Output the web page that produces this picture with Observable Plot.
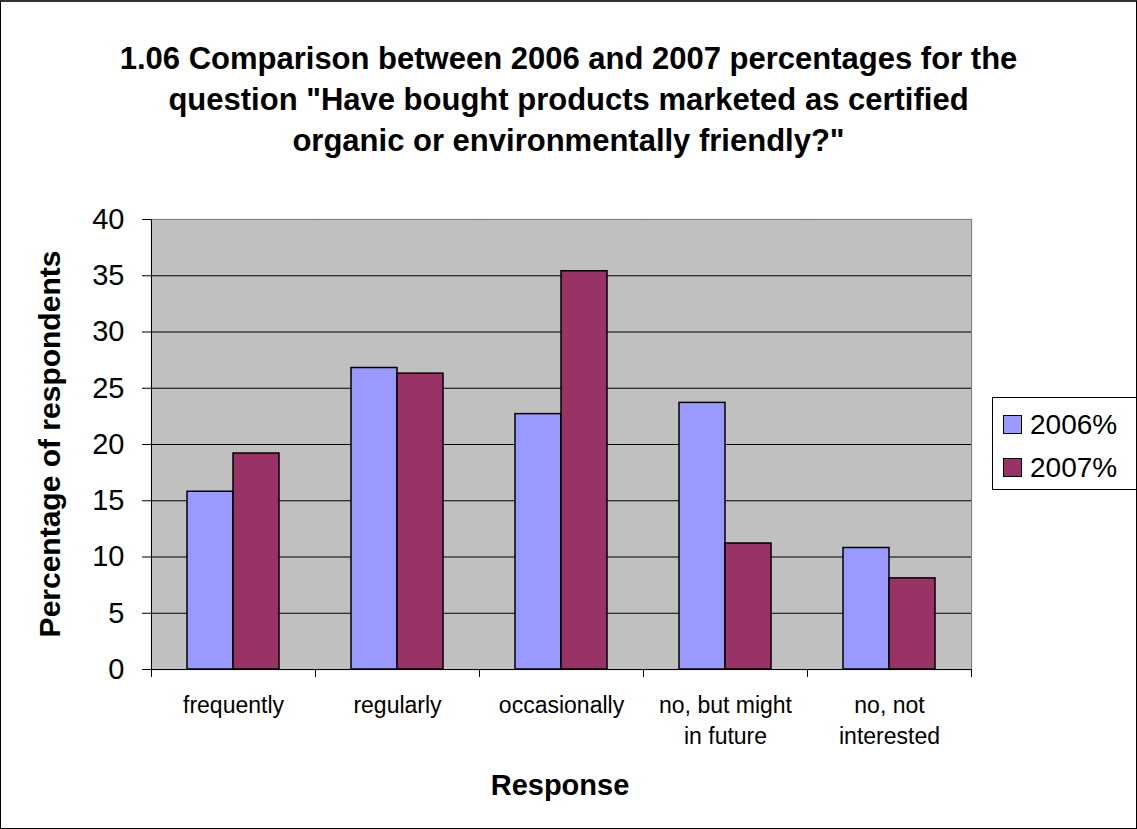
<!DOCTYPE html>
<html>
<head>
<meta charset="utf-8">
<script src="https://cdn.jsdelivr.net/npm/d3@7"></script>
<script src="https://cdn.jsdelivr.net/npm/@observablehq/plot@0.6"></script>
<style>
  body { margin: 0; background: #fff; font-family: "Liberation Sans", Arial, sans-serif; color: #000; }
  #wrap { position: relative; width: 1137px; height: 829px; overflow: hidden; background: #fff; }
  #chart { position: absolute; left: 0; top: 0; }
  #border { position: absolute; left: 0; top: 0; width: 1137px; height: 829px; box-sizing: border-box;
            border: 1px solid #000; border-top: 2px solid #333; pointer-events: none; }
  #title { position: absolute; left: 0; top: 38px; width: 1137px; text-align: center;
           font-weight: bold; font-size: 31px; line-height: 41px; }
  #ylab { position: absolute; left: 50px; top: 444px; transform: translate(-50%, -50%) rotate(-90deg);
          font-weight: bold; font-size: 30px; white-space: nowrap; }
  #xlab { position: absolute; left: 560px; top: 785px; transform: translate(-50%, -50%);
          font-weight: bold; font-size: 29px; white-space: nowrap; }
  #legend { position: absolute; left: 992px; top: 397px; width: 146px; height: 93px; box-sizing: border-box;
            border: 1px solid #000; background: #fff; padding-top: 5px; }
  .item { display: flex; align-items: center; height: 43px; padding-left: 10px; font-size: 28px; }
  .sw { width: 17px; height: 17px; border: 1.5px solid #000; margin-right: 8px; box-sizing: content-box; }
</style>
</head>
<body>
<div id="wrap">
  <div id="chart"></div>
  <div id="title"></div>
  <div id="ylab">Percentage of respondents</div>
  <div id="xlab">Response</div>
  <div id="legend"></div>
  <div id="border"></div>
</div>
<script>
const titleLines = [
  "1.06 Comparison between 2006 and 2007 percentages for the",
  "question \"Have bought products marketed as certified",
  "organic or environmentally friendly?\""
];
const categories = ["frequently", "regularly", "occasionally", "no, but might\nin future", "no, not\ninterested"];
const series = ["2006%", "2007%"];
const values2006 = [15.8, 26.8, 22.7, 23.7, 10.8];
const values2007 = [19.2, 26.3, 35.4, 11.2, 8.1];
const yTicks = [0, 5, 10, 15, 20, 25, 30, 35, 40];
const seriesColors = ["#9999FF", "#993366"];

document.getElementById("title").innerHTML = titleLines.map(t => t.replace(/&/g,"&amp;").replace(/</g,"&lt;")).join("<br>");

const data = categories.flatMap((c, i) => [
  {category: c, series: series[0], value: values2006[i]},
  {category: c, series: series[1], value: values2007[i]}
]);

const first = categories[0];
const last = categories[categories.length - 1];
const H = 829, MT = 219, MB = 160;
const plotH = H - MT - MB;

const chart = Plot.plot({
  width: 1137,
  height: H,
  marginTop: MT,
  marginBottom: MB,
  marginLeft: 149,
  marginRight: 165,
  style: {fontFamily: "'Liberation Sans', Arial, sans-serif", background: "transparent", color: "#000"},
  fx: {domain: categories, padding: 0, label: null},
  x: {domain: series, paddingInner: 0, paddingOuter: 0.75, axis: null},
  y: {domain: [0, 40], label: null},
  color: {domain: series, range: seriesColors},
  marks: [
    Plot.frame({fill: "#C0C0C0", stroke: "#C0C0C0", strokeWidth: 1.5}),
    Plot.ruleY(yTicks.filter(t => t > 0 && t < 40), {stroke: "#000", strokeWidth: 1}),
    Plot.ruleY([40], {stroke: "#808080", strokeWidth: 1}),
    Plot.frame({anchor: "right", stroke: "#808080", fx: last}),
    Plot.barY(data, {fx: "category", x: "series", y: "value", fill: "series", stroke: "#000", strokeWidth: 1.5}),
    Plot.ruleY([0], {stroke: "#000", strokeWidth: 1}),
    Plot.frame({anchor: "left", stroke: "#000", fx: first, insetBottom: -7}),
    Plot.frame({anchor: "left", stroke: "#000", insetTop: plotH, insetBottom: -7}),
    Plot.frame({anchor: "right", stroke: "#000", fx: last, insetTop: plotH, insetBottom: -7}),
    Plot.axisY({ticks: yTicks, tickSize: 9, tickPadding: 18, fontSize: 29, label: null, stroke: "#000"}),
    Plot.axisFx({anchor: "bottom", tickSize: 0, tickPadding: 21, fontSize: 23, lineHeight: 1.35, label: null})
  ]
});
document.getElementById("chart").appendChild(chart);

const legend = document.getElementById("legend");
series.forEach((s, i) => {
  const item = document.createElement("div");
  item.className = "item";
  const sw = document.createElement("span");
  sw.className = "sw";
  sw.style.background = seriesColors[i];
  const tx = document.createElement("span");
  tx.textContent = s;
  item.appendChild(sw);
  item.appendChild(tx);
  legend.appendChild(item);
});
</script>
</body>
</html>
